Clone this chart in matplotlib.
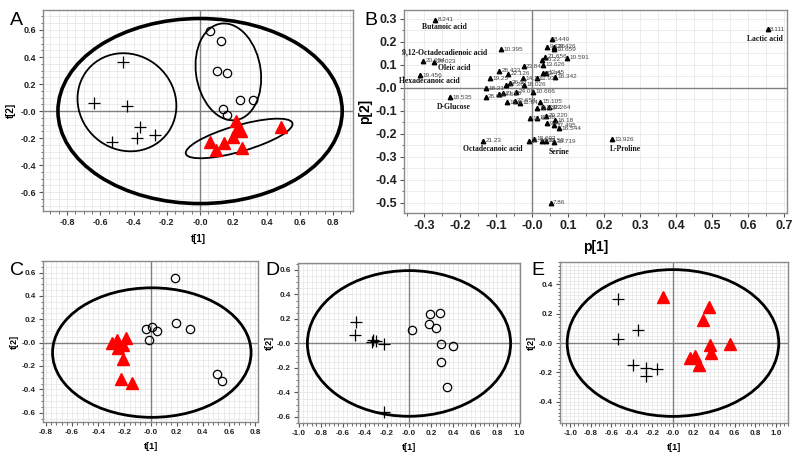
import matplotlib
matplotlib.use("Agg")
import matplotlib.pyplot as plt
from matplotlib.patches import Ellipse
from matplotlib.ticker import MultipleLocator, FuncFormatter

plt.rcParams['font.family'] = ['Liberation Sans', 'DejaVu Sans']

# ---- panel A scores ----
a_plus_x = [-0.466, -0.637, -0.44, -0.36, -0.38, -0.27, -0.53]
a_plus_y = [0.365, 0.057, 0.037, -0.12, -0.20, -0.18, -0.227]
a_circ_x = [0.062, 0.128, 0.10, 0.16, 0.24, 0.32, 0.139, 0.159]
a_circ_y = [0.59, 0.52, 0.294, 0.28, 0.079, 0.084, 0.015, -0.03]
a_tri_x = [0.062, 0.096, 0.145, 0.217, 0.22, 0.20, 0.245, 0.25, 0.484]
a_tri_y = [-0.227, -0.289, -0.24, -0.07, -0.13, -0.19, -0.15, -0.27, -0.116]
# ellipses: cx, cy, width, height, angle, linewidth
a_ellipses = [(0.0, 0.0, 1.71, 1.37, 0, 2.6),
              (-0.44, 0.065, 0.59, 0.73, 10, 1.3),
              (0.17, 0.29, 0.39, 0.72, 6, 1.3),
              (0.235, -0.203, 0.68, 0.19, 20, 1.3)]

# ---- panel B loadings ----
b_x = [-0.270, -0.088, -0.304, -0.274, -0.312, -0.228, -0.137, 0.223, 0.655, 0.051,
       0.060, 0.098, 0.054, 0.042, 0.060, 0.060, 0.035, 0.027, 0.030, -0.024,
       -0.093, -0.067, -0.118, -0.027, 0.013, 0.030, 0.039, 0.063, -0.072, -0.063,
       -0.024, 0.002, -0.128, -0.130, -0.092, -0.081, -0.044, -0.070, -0.049, -0.033,
       0.021, 0.013, 0.030, 0.047, -0.007, 0.014, 0.039, 0.041, 0.063, 0.061,
       0.074, -0.009, 0.004, 0.026, 0.039]
b_y = [0.296, 0.168, 0.119, 0.113, 0.055, -0.041, -0.230, -0.224, 0.255, -0.500,
       -0.234, 0.132, 0.212, 0.180, 0.180, 0.169, 0.136, 0.122, 0.100, 0.095,
       0.075, 0.061, 0.042, 0.042, 0.042, 0.063, 0.066, 0.049, 0.013, 0.023,
       0.013, -0.016, -0.002, -0.038, -0.028, -0.024, -0.016, -0.063, -0.057, -0.064,
       -0.060, -0.089, -0.085, -0.085, -0.132, -0.130, -0.122, -0.154, -0.140, -0.162,
       -0.176, -0.231, -0.222, -0.231, -0.231]
b_lab = ["8.241", "10.395", "20.604", "24.023", "19.456", "18.535", "21.23", "13.926", "8.111", "7.86",
         "18.719", "10.591", "8.449", "9.126", "24.426", "10.659", "21.656", "16.22", "13.626", "23.84",
         "28.433", "22.126", "19.25", "14.13", "11.93", "23.45", "12.45", "16.342", "17.28", "26.57",
         "18.026", "10.666", "18.21", "28.62", "14.51", "21.15", "24.06", "15.8", "22.654", "11.64",
         "15.105", "12.43", "17.92", "22.264", "16.6", "12.88", "20.220", "9.47", "16.18", "17.495",
         "16.544", "11.4", "18.692", "9.92", "12.53"]
b_names = ["Butanoic acid", "9,12-Octadecadienoic acid", "Oleic acid", "Hexadecanoic acid",
           "D-Glucose", "Octadecanoic acid", "Serine", "L-Proline", "Lactic acid"]
b_name_x = [-0.244, -0.244, -0.216, -0.286, -0.219, -0.111, 0.075, 0.258, 0.648]
b_name_y = [0.267, 0.153, 0.085, 0.031, -0.082, -0.267, -0.278, -0.267, 0.213]

# ---- panel C ----
c_circ_x = [0.191, 0.197, 0.304, -0.038, 0.015, 0.048, -0.015, 0.508, 0.549]
c_circ_y = [0.554, 0.171, 0.12, 0.12, 0.137, 0.097, 0.023, -0.266, -0.326]
c_tri_x = [-0.293, -0.26, -0.189, -0.245, -0.21, -0.214, -0.227, -0.145]
c_tri_y = [0.0, 0.02, 0.04, -0.046, -0.017, -0.143, -0.309, -0.343]
c_ellipse = (0.01, -0.085, 1.52, 1.11)

# ---- panel D ----
d_plus_x = [-0.484, -0.49, -0.322, -0.334, -0.30, -0.224, -0.224]
d_plus_y = [0.175, 0.068, 0.027, 0.011, 0.016, -0.005, -0.559]
d_circ_x = [0.024, 0.194, 0.284, 0.185, 0.248, 0.293, 0.394, 0.293, 0.346]
d_circ_y = [0.109, 0.24, 0.245, 0.158, 0.123, -0.005, -0.019, -0.15, -0.355]
d_ellipse = (0.0, 0.0, 1.84, 1.19)

# ---- panel E ----
e_plus_x = [-0.54, -0.345, -0.54, -0.393, -0.26, -0.156, -0.26]
e_plus_y = [0.298, 0.086, 0.025, -0.152, -0.168, -0.177, -0.227]
e_tri_x = [-0.10, 0.351, 0.293, 0.553, 0.358, 0.374, 0.163, 0.218, 0.25]
e_tri_y = [0.314, 0.245, 0.159, -0.009, -0.016, -0.066, -0.105, -0.091, -0.148]
e_ellipse = (0.0, 0.0, 2.06, 1.0)


def fmt(v, pos):
    s = '%.1f' % v
    if s in ('0.0', '-0.0'):
        return '-0.0'
    return s


def style(ax, xlim, ylim, xstep, ystep, xminor, yminor, fs):
    ax.set_xlim(*xlim)
    ax.set_ylim(*ylim)
    ax.xaxis.set_major_locator(MultipleLocator(xstep))
    ax.yaxis.set_major_locator(MultipleLocator(ystep))
    ax.xaxis.set_minor_locator(MultipleLocator(xminor))
    ax.yaxis.set_minor_locator(MultipleLocator(yminor))
    ax.xaxis.set_major_formatter(FuncFormatter(fmt))
    ax.yaxis.set_major_formatter(FuncFormatter(fmt))
    ax.grid(which='both', color='#e4e4e4', lw=0.5)
    ax.set_axisbelow(True)
    ax.axhline(0, color='#808080', lw=1, zorder=1)
    ax.axvline(0, color='#808080', lw=1, zorder=1)
    for s in ax.spines.values():
        s.set_color('#8a8a8a')
        s.set_linewidth(1)
    ax.tick_params(which='major', length=3, width=0.8, color='#555555', labelsize=fs, pad=2)
    ax.tick_params(which='minor', length=1.8, width=0.6, color='#555555')
    for t in ax.get_xticklabels() + ax.get_yticklabels():
        t.set_fontweight('bold')
        t.set_color('#222222')


def ell(ax, cx, cy, w, h, ang=0, lw=2.2):
    ax.add_patch(Ellipse((cx, cy), w, h, angle=ang, fill=False, ec='black', lw=lw, zorder=3))


fig = plt.figure(figsize=(8, 4.59), dpi=100)
fig.patch.set_facecolor('white')

tri = dict(marker='^', color='#ff0000', ls='none', zorder=5)
circ = dict(marker='o', mfc='none', mec='black', mew=0.9, ls='none', zorder=5)
plus = dict(marker='+', color='black', mew=0.9, ls='none', zorder=5)

# A
axA = fig.add_axes([0.05375, 0.5403, 0.3875, 0.4379])
style(axA, (-0.945, 0.92), (-0.74, 0.748), 0.2, 0.2, 0.05, 0.05, 6.5)
for cx, cy, w, h, ang, lw in a_ellipses:
    ell(axA, cx, cy, w, h, ang, lw)
axA.plot(a_plus_x, a_plus_y, ms=8, **plus)
axA.plot(a_circ_x, a_circ_y, ms=6, **circ)
axA.plot(a_tri_x, a_tri_y, ms=8, **tri)
axA.set_xlabel('t[1]', fontsize=7, fontweight='bold', labelpad=5)
axA.set_ylabel('t[2]', fontsize=7, fontweight='bold', labelpad=3)
fig.text(0.012, 0.955, 'A', fontsize=14, va='center')

# B
axB = fig.add_axes([0.505, 0.5359, 0.47875, 0.4423])
style(axB, (-0.357, 0.709), (-0.545, 0.339), 0.1, 0.1, 0.05, 0.1, 9)
axB.yaxis.set_minor_locator(MultipleLocator(0.05))
axB.grid(False)
axB.grid(which='major', color='#e4e4e4', lw=0.5)
axB.grid(which='minor', axis='x', color='#e4e4e4', lw=0.5)
axB.plot(b_x, b_y, marker='^', color='black', ms=3.2, ls='none', zorder=5)
for x, y, lab in zip(b_x, b_y, b_lab):
    axB.annotate(lab, (x, y), xytext=(1.8, 0), textcoords='offset points',
                 fontsize=4.6, color='#444444', va='center', zorder=6)
for name, x, y in zip(b_names, b_name_x, b_name_y):
    axB.text(x, y, name, fontsize=5.5, fontweight='bold', family='Liberation Serif',
             ha='center', va='center', color='#111111', zorder=6)
axB.set_xlabel('p[1]', fontsize=10, fontweight='bold', labelpad=6)
axB.set_ylabel('p[2]', fontsize=10, fontweight='bold', labelpad=2)
fig.text(0.455, 0.955, 'B', fontsize=14, va='center')

# C
axC = fig.add_axes([0.05375, 0.0806, 0.26875, 0.3508])
style(axC, (-0.823, 0.823), (-0.68, 0.70), 0.2, 0.2, 0.04, 0.05, 5.8)
ell(axC, *c_ellipse, lw=2)
axC.plot(c_circ_x, c_circ_y, ms=6, **circ)
axC.plot(c_tri_x, c_tri_y, ms=8, **tri)
axC.set_xlabel('t[1]', fontsize=6.5, fontweight='bold', labelpad=4)
axC.set_ylabel('t[2]', fontsize=6.5, fontweight='bold', labelpad=2)
fig.text(0.012, 0.41, 'C', fontsize=14, va='center')

# D
axD = fig.add_axes([0.3725, 0.0784, 0.2775, 0.3486])
style(axD, (-1.005, 1.005), (-0.65, 0.657), 0.2, 0.2, 0.04, 0.05, 5.8)
ell(axD, *d_ellipse, lw=2)
axD.plot(d_plus_x, d_plus_y, ms=8, **plus)
axD.plot(d_circ_x, d_circ_y, ms=6, **circ)
axD.set_xlabel('t[1]', fontsize=6.5, fontweight='bold', labelpad=4)
axD.set_ylabel('t[2]', fontsize=6.5, fontweight='bold', labelpad=2)
fig.text(0.332, 0.41, 'D', fontsize=14, va='center')

# E
axE = fig.add_axes([0.70, 0.0784, 0.285, 0.3508])
style(axE, (-1.10, 1.12), (-0.545, 0.552), 0.2, 0.2, 0.04, 0.025, 5.8)
ell(axE, *e_ellipse, lw=2)
axE.plot(e_plus_x, e_plus_y, ms=8, **plus)
axE.plot(e_tri_x, e_tri_y, ms=8, **tri)
axE.set_xlabel('t[1]', fontsize=6.5, fontweight='bold', labelpad=4)
axE.set_ylabel('t[2]', fontsize=6.5, fontweight='bold', labelpad=2)
fig.text(0.664, 0.41, 'E', fontsize=14, va='center')

fig.savefig('out.png', dpi=100)
